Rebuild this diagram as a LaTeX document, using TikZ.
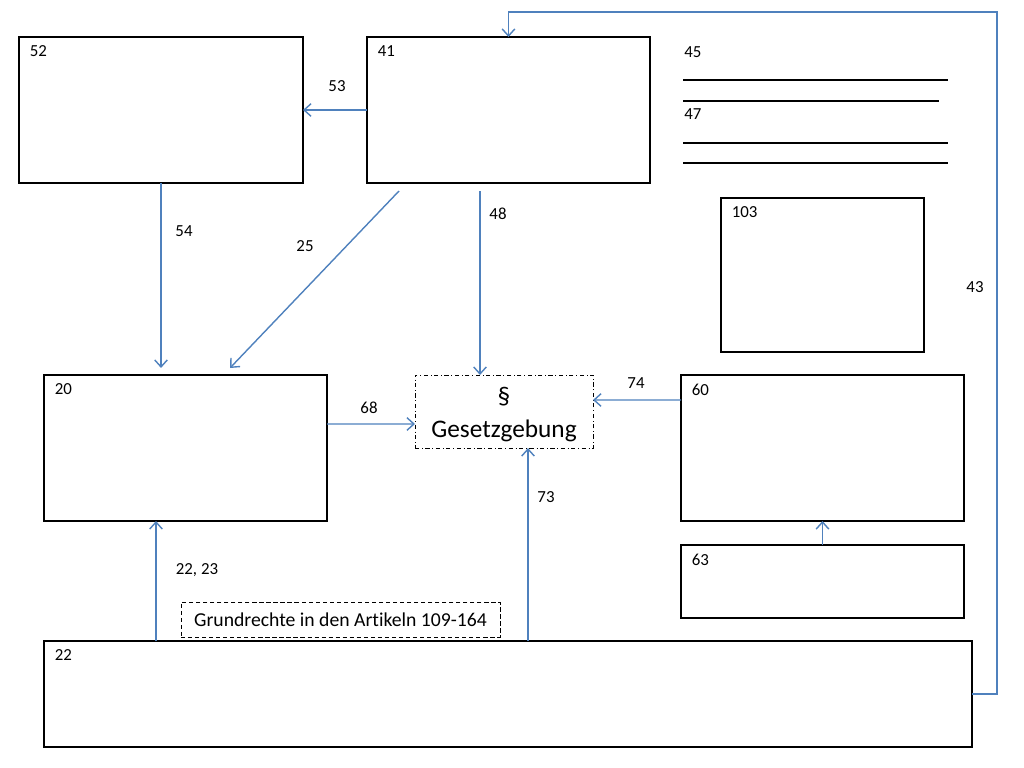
\documentclass[tikz,border=0pt]{standalone}
\usepackage{fontspec}
\setmainfont{Carlito}[Ligatures=NoCommon]
\usetikzlibrary{calc}
\usetikzlibrary{positioning}
\usetikzlibrary{arrows.meta}
\usetikzlibrary{fit}

\begin{document}
\begin{tikzpicture}[x=0.025cm,y=-0.025cm,>={Straight Barb[length=5pt,width=9pt]},
  box/.style={draw,line width=1.8pt,inner sep=0pt,outer sep=0pt},
  num/.style={anchor=north west,inner xsep=7.5pt,inner ysep=6pt,font=\fontsize{12}{14}\selectfont},
  lbl/.style={font=\fontsize{12}{14}\selectfont},
  big/.style={anchor=base,inner sep=0pt,font=\fontsize{18}{21}\selectfont},
  arr/.style={->,draw={rgb,255:red,79;green,129;blue,189},line width=1pt}]

\useasboundingbox (0,0) rectangle (1024,768);

% boxes
\node [box, fit={(19,37) (303,183)}] (b52) {};
\node [box, fit={(367,37) (650,183)}] (b41) {};
\node [box, fit={(721,198) (924,352)}] (b103) {};
\node [box, fit={(44,375) (327,521)}] (b20) {};
\node [box, fit={(681,375) (964,521)}] (b60) {};
\node [box, fit={(681,545) (964,618)}] (b63) {};
\node [box, fit={(44,641) (972,747)}] (b22) {};

\node [num] at (b52.north west) {52};
\node [num] at (b41.north west) {41};
\node [num] at (b103.north west) {103};
\node [num] at (b20.north west) {20};
\node [num] at (b60.north west) {60};
\node [num] at (b63.north west) {63};
\node [num] at (b22.north west) {22};

\node [draw,dash dot,line width=0.7pt,inner sep=0pt,outer sep=0pt,fit={(415,375) (593,448)}] (gz) {};
\node [big] (gzs) at (504,404) {\S};
\node [big] (gzt) at (504,437) {Gesetzgebung};
\node [draw,densely dashed,line width=0.6pt,fill=white,minimum width=7.975cm,minimum height=0.875cm,
  font=\fontsize{14}{16}\selectfont] (gr) at (340.5,619.5) {Grundrechte in den Artikeln 109-164};

% notes
\node [lbl,anchor=west,inner sep=0pt] (n45) at (684,52) {45};
\node [lbl,anchor=west,inner sep=0pt] (n47) at (684,114) {47};
\draw [line width=1pt] (683,80) -- (948,80);
\draw [line width=1pt] (683,101) -- (939,101);
\draw [line width=1pt] (683,143) -- (948,143);
\draw [line width=1pt] (683,163) -- (948,163);

% connectors
\draw [arr] (b41.west) -- (b52.east);
\draw [arr,shorten >=5pt] (b52.south) -- (b52.south |- b20.north);
\draw [arr] ($(b41.south west)+(32,8)$) -- ($(b20.north west)+(186,-7)$);
\draw [arr] ($(b41.south west)+(113,8)$) -- ($(gz.north west)+(65,0)$);
\draw [arr] ($(b60.north west)+(0,25)$) -- ($(gz.north east)+(0,25)$);
\draw [arr] ($(b20.north east)+(0,49)$) -- ($(gz.north west)+(0,49)$);
\draw [arr] ($(b22.north west)+(112,0)$) -- ($(b20.south west)+(112,0)$);
\draw [arr] ($(b22.north west)+(484,0)$) -- ($(gz.south west)+(113,0)$);
\draw [arr] (b63.north) -- (b60.south);
\coordinate (c43) at (997,12);
\draw [arr] (b22.east) -| (c43) -| (b41.north);

% labels
\node [lbl] (l53) at (337,86) {53};
\node [lbl] (l54) at (184,231) {54};
\node [lbl] (l25) at (305,246) {25};
\node [lbl] (l48) at (498,214) {48};
\node [lbl] (l74) at (636,383) {74};
\node [lbl] (l68) at (369,408) {68};
\node [lbl] (l2223) at (197,570) {22, 23};
\node [lbl] (l73) at (546,497) {73};
\node [lbl] (l43) at (975,287) {43};

\end{tikzpicture}
\end{document}
